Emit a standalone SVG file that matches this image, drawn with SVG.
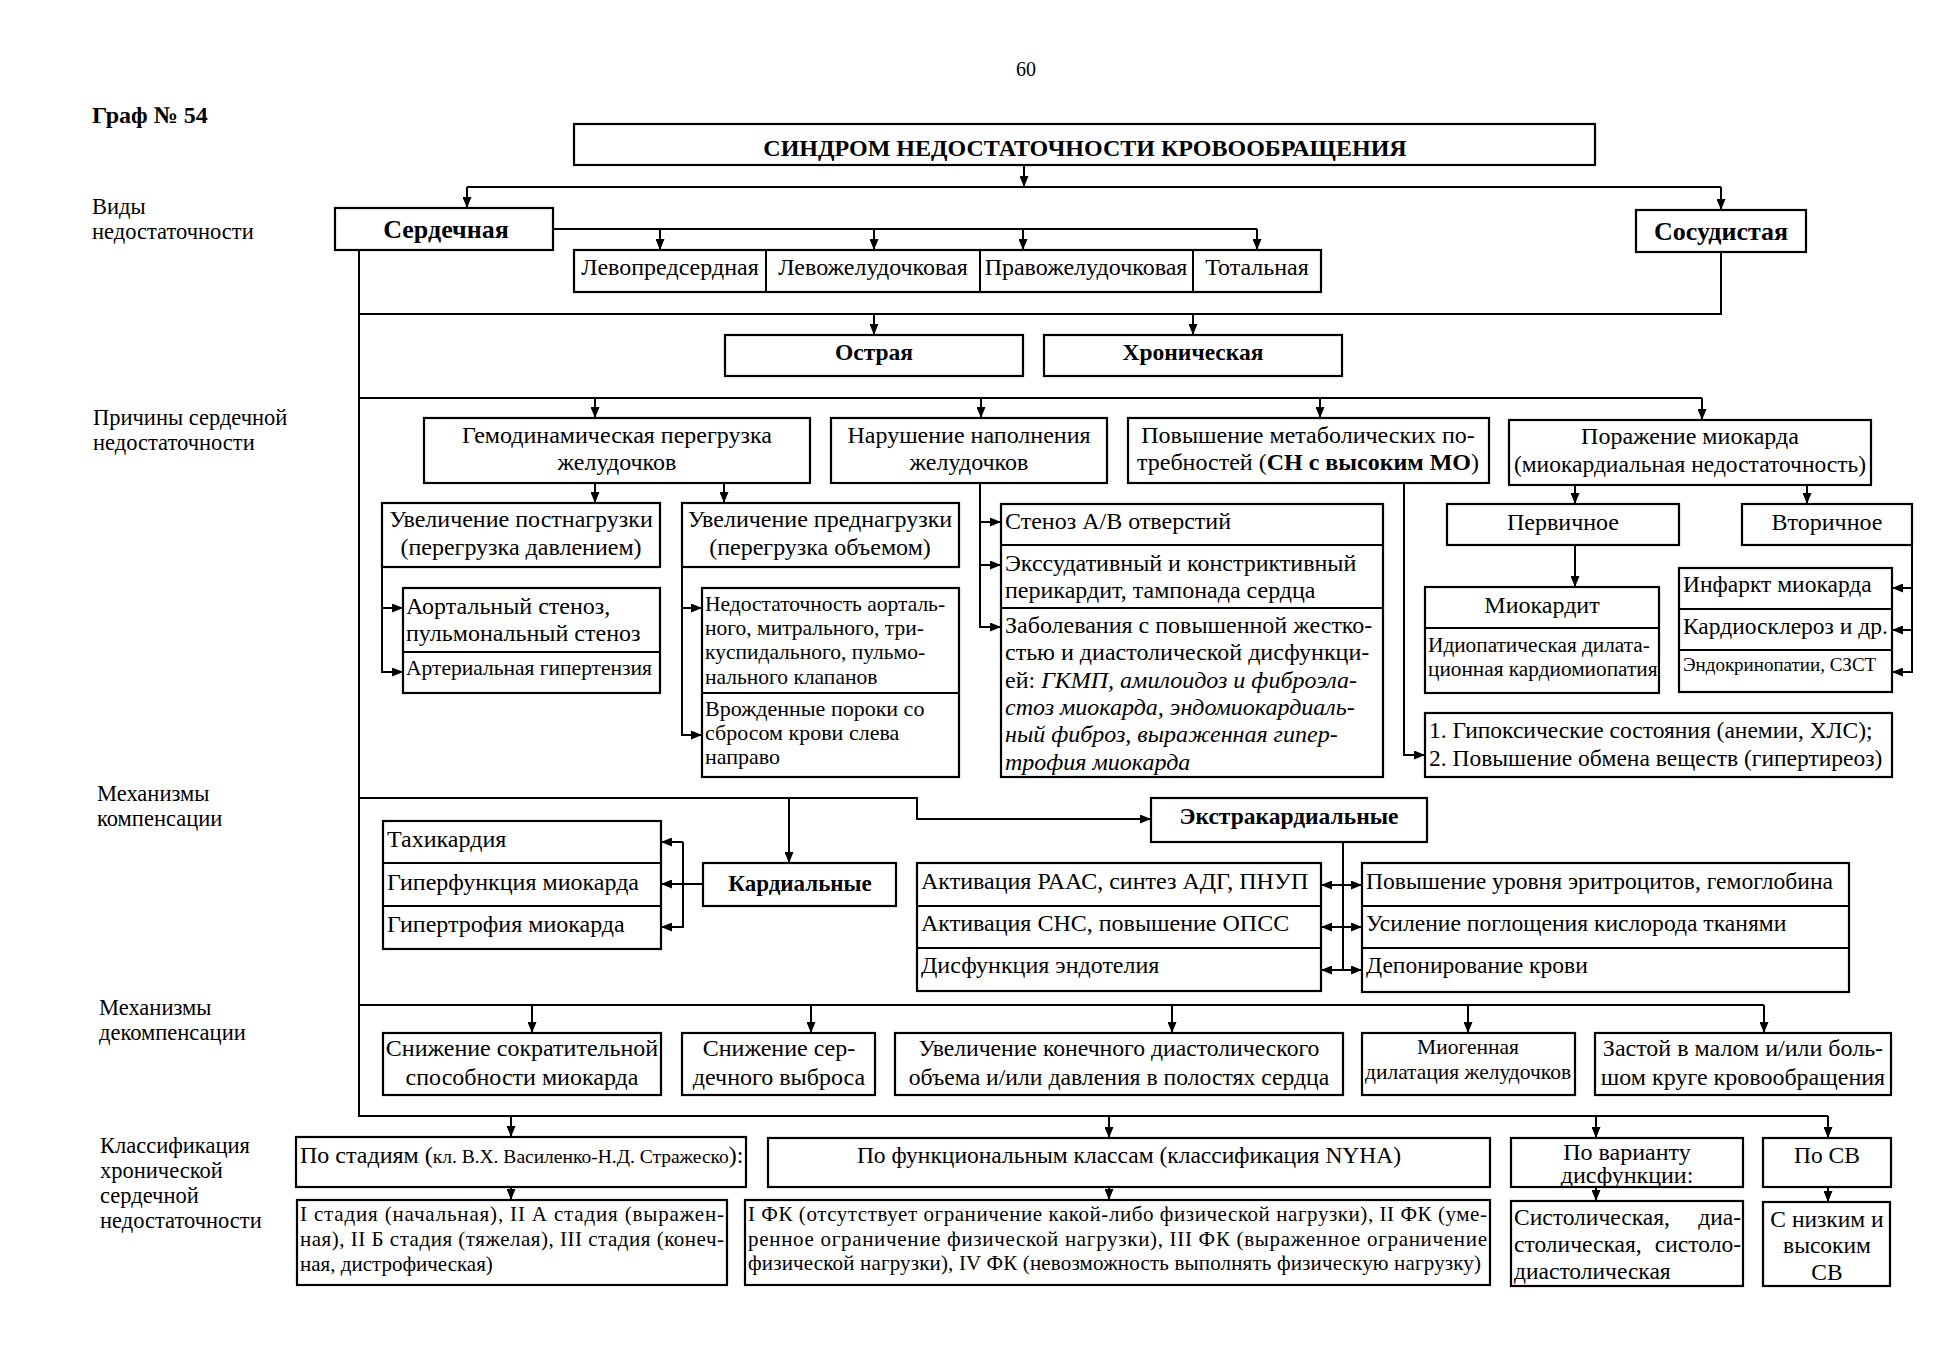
<svg xmlns="http://www.w3.org/2000/svg" width="1948" height="1350" viewBox="0 0 1948 1350">
<defs>
<style>
text{font-family:"Liberation Serif","Times New Roman",serif;font-size:24px;fill:#000}
.lb{font-size:22.5px}
.m{text-anchor:middle}
.e{text-anchor:end}
.b{font-weight:bold}
.s{font-size:21.5px}
.xs{font-size:19.5px}
.p{font-size:21px}
.i{font-style:italic}
.box{fill:#fff;stroke:#000;stroke-width:2.2}
.dv{stroke:#000;stroke-width:2}
.cn path{fill:none;stroke:#000;stroke-width:2}
.ar{marker-end:url(#ah)}
.da{marker-start:url(#ah);marker-end:url(#ah)}
</style>
<marker id="ah" viewBox="0 0 11 9" refX="11" refY="4.5" markerWidth="11" markerHeight="9" markerUnits="userSpaceOnUse" orient="auto-start-reverse"><path d="M0,0 L11,4.5 L0,9 z" fill="#000"/></marker>
</defs>
<rect width="1948" height="1350" fill="#fff"/>

<g id="labels">
<text x="1026" y="76" class="m" style="font-size:20px">60</text>
<text x="92" y="123" class="b">Граф № 54</text>
<text x="92" y="214" class="lb">Виды</text>
<text x="92" y="239" class="lb">недостаточности</text>
<text x="93" y="425" class="lb">Причины сердечной</text>
<text x="93" y="450" class="lb">недостаточности</text>
<text x="97" y="801" class="lb">Механизмы</text>
<text x="97" y="826" class="lb">компенсации</text>
<text x="99" y="1015" class="lb">Механизмы</text>
<text x="99" y="1040" class="lb">декомпенсации</text>
<text x="100" y="1153" class="lb">Классификация</text>
<text x="100" y="1178" class="lb">хронической</text>
<text x="100" y="1203" class="lb">сердечной</text>
<text x="100" y="1228" class="lb">недостаточности</text>
</g>

<g id="connectors" class="cn">
<path class="ar" d="M1024,165 V187"/>
<path d="M467,187 H1721"/>
<path class="ar" d="M467,187 V208"/>
<path class="ar" d="M1721,187 V210"/>
<path d="M553,229 H1257"/>
<path class="ar" d="M660,229 V250"/>
<path class="ar" d="M874,229 V250"/>
<path class="ar" d="M1023,229 V250"/>
<path class="ar" d="M1257,229 V250"/>
<path d="M359,250 V1116 H1828"/>
<path d="M1721,252 V314 H359"/>
<path class="ar" d="M874,314 V335"/>
<path class="ar" d="M1193,314 V335"/>
<path d="M359,398 H1702"/>
<path class="ar" d="M595,398 V418"/>
<path class="ar" d="M981,398 V418"/>
<path class="ar" d="M1320,398 V418"/>
<path class="ar" d="M1702,398 V420"/>
<path class="ar" d="M595,483 V503"/>
<path class="ar" d="M724,483 V503"/>
<path class="ar" d="M382,567 V672 H403"/>
<path class="ar" d="M382,608 H403"/>
<path class="ar" d="M682,567 V735 H702"/>
<path class="ar" d="M682,608 H702"/>
<path class="ar" d="M980,483 V627 H1001"/>
<path class="ar" d="M980,522 H1001"/>
<path class="ar" d="M980,565 H1001"/>
<path class="ar" d="M1404,483 V755 H1425"/>
<path class="ar" d="M1575,485 V504"/>
<path class="ar" d="M1807,485 V504"/>
<path class="ar" d="M1575,545 V587"/>
<path class="ar" d="M1912,545 V672 H1892"/>
<path class="ar" d="M1912,588 H1892"/>
<path class="ar" d="M1912,630 H1892"/>
<path class="ar" d="M359,798 H917 V819 H1151"/>
<path class="ar" d="M789,798 V863"/>
<path class="ar" d="M703,884 H661"/>
<path class="ar" d="M683,842 V927 H661"/>
<path class="ar" d="M683,842 H661"/>
<path d="M1343,842 V970"/>
<path class="da" d="M1321,885 H1362"/>
<path class="da" d="M1321,927 H1362"/>
<path class="da" d="M1321,970 H1362"/>
<path d="M359,1005 H1764"/>
<path class="ar" d="M532,1005 V1033"/>
<path class="ar" d="M811,1005 V1033"/>
<path class="ar" d="M1172,1005 V1033"/>
<path class="ar" d="M1468,1005 V1033"/>
<path class="ar" d="M1764,1005 V1033"/>
<path class="ar" d="M511,1116 V1137"/>
<path class="ar" d="M1109,1116 V1138"/>
<path class="ar" d="M1596,1116 V1138"/>
<path class="ar" d="M1828,1116 V1138"/>
<path class="ar" d="M511,1180 V1200"/>
<path class="ar" d="M1109,1180 V1200"/>
<path class="ar" d="M1596,1180 V1201"/>
<path class="ar" d="M1828,1180 V1202"/>
</g>

<g id="title"><rect class="box" x="574" y="124" width="1021" height="41"/><text x="1085" y="156" class="m b">СИНДРОМ НЕДОСТАТОЧНОСТИ КРОВООБРАЩЕНИЯ</text></g>
<g id="serdechnaya"><rect class="box" x="335" y="208" width="218" height="42"/><text x="446" y="238" class="m b" style="font-size:26px">Сердечная</text></g>
<g id="sosudistaya"><rect class="box" x="1636" y="210" width="170" height="42"/><text x="1721" y="240" class="m b" style="font-size:26px">Сосудистая</text></g>
<g id="types">
<rect class="box" x="574" y="250" width="747" height="42"/>
<line class="dv" x1="766" y1="250" x2="766" y2="292"/>
<line class="dv" x1="980" y1="250" x2="980" y2="292"/>
<line class="dv" x1="1193" y1="250" x2="1193" y2="292"/>
<text x="670" y="275" class="m">Левопредсердная</text>
<text x="873" y="275" class="m">Левожелудочковая</text>
<text x="1086" y="275" class="m">Правожелудочковая</text>
<text x="1257" y="275" class="m">Тотальная</text>
</g>
<g id="ostraya"><rect class="box" x="725" y="335" width="298" height="41"/><text x="874" y="360" class="m b" style="font-size:23.5px">Острая</text></g>
<g id="hronicheskaya"><rect class="box" x="1044" y="335" width="298" height="41"/><text x="1193" y="360" class="m b" style="font-size:23.5px">Хроническая</text></g>

<g id="gemodinamicheskaya"><rect class="box" x="424" y="418" width="386" height="65"/><text x="617" y="443" class="m">Гемодинамическая перегрузка</text><text x="617" y="470" class="m">желудочков</text></g>
<g id="narushenie"><rect class="box" x="831" y="418" width="276" height="65"/><text x="969" y="443" class="m">Нарушение наполнения</text><text x="969" y="470" class="m">желудочков</text></g>
<g id="metabolic"><rect class="box" x="1128" y="418" width="361" height="65"/><text x="1308" y="443" class="m">Повышение метаболических по-</text><text x="1308" y="470" class="m">требностей (<tspan class="b">СН с высоким МО</tspan>)</text></g>
<g id="porazhenie"><rect class="box" x="1509" y="420" width="362" height="65"/><text x="1690" y="444" class="m">Поражение миокарда</text><text x="1690" y="472" class="m" style="font-size:23.5px">(миокардиальная недостаточность)</text></g>

<g id="postnagruzka"><rect class="box" x="382" y="503" width="278" height="64"/><text x="521" y="527" class="m">Увеличение постнагрузки</text><text x="521" y="555" class="m">(перегрузка давлением)</text></g>
<g id="prednagruzka"><rect class="box" x="682" y="503" width="277" height="64"/><text x="820" y="527" class="m">Увеличение преднагрузки</text><text x="820" y="555" class="m">(перегрузка объемом)</text></g>

<g id="aortal">
<rect class="box" x="403" y="588" width="257" height="105"/>
<line class="dv" x1="403" y1="652" x2="660" y2="652"/>
<text x="406" y="614">Аортальный стеноз,</text>
<text x="406" y="641">пульмональный стеноз</text>
<text x="406" y="675" class="s">Артериальная гипертензия</text>
</g>
<g id="nedostatochnost">
<rect class="box" x="702" y="588" width="257" height="189"/>
<line class="dv" x1="702" y1="693" x2="959" y2="693"/>
<text x="705" y="611" class="s">Недостаточность аорталь-</text>
<text x="705" y="635" class="s">ного, митрального, три-</text>
<text x="705" y="659" class="s">куспидального, пульмо-</text>
<text x="705" y="684" class="s">нального клапанов</text>
<text x="705" y="716" style="font-size:22px">Врожденные пороки со</text>
<text x="705" y="740" style="font-size:22px">сбросом крови слева</text>
<text x="705" y="764" style="font-size:22px">направо</text>
</g>
<g id="filling">
<rect class="box" x="1001" y="504" width="382" height="273"/>
<line class="dv" x1="1001" y1="545" x2="1383" y2="545"/>
<line class="dv" x1="1001" y1="608" x2="1383" y2="608"/>
<text x="1005" y="529">Стеноз А/В отверстий</text>
<text x="1005" y="571">Экссудативный и констриктивный</text>
<text x="1005" y="598">перикардит, тампонада сердца</text>
<text x="1005" y="633">Заболевания с повышенной жестко-</text>
<text x="1005" y="660">стью и диастолической дисфункци-</text>
<text x="1005" y="688">ей: <tspan class="i">ГКМП, амилоидоз и фиброэла-</tspan></text>
<text x="1005" y="715" class="i">стоз миокарда, эндомиокардиаль-</text>
<text x="1005" y="742" class="i">ный фиброз, выраженная гипер-</text>
<text x="1005" y="770" class="i">трофия миокарда</text>
</g>
<g id="pervichnoe"><rect class="box" x="1447" y="504" width="232" height="41"/><text x="1563" y="530" class="m">Первичное</text></g>
<g id="vtorichnoe"><rect class="box" x="1742" y="504" width="170" height="41"/><text x="1827" y="530" class="m">Вторичное</text></g>
<g id="miokardit">
<rect class="box" x="1425" y="587" width="234" height="106"/>
<line class="dv" x1="1425" y1="628" x2="1659" y2="628"/>
<text x="1542" y="613" class="m">Миокардит</text>
<text x="1428" y="652" style="font-size:21.3px">Идиопатическая дилата-</text>
<text x="1428" y="676" style="font-size:21.3px">ционная кардиомиопатия</text>
</g>
<g id="infarkt">
<rect class="box" x="1679" y="568" width="213" height="124"/>
<line class="dv" x1="1679" y1="609" x2="1892" y2="609"/>
<line class="dv" x1="1679" y1="650" x2="1892" y2="650"/>
<text x="1683" y="592" style="font-size:23.5px">Инфаркт миокарда</text>
<text x="1683" y="634" style="font-size:23.5px">Кардиосклероз и др.</text>
<text x="1683" y="671" style="font-size:19px">Эндокринопатии, СЗСТ</text>
</g>
<g id="hypoxia">
<rect class="box" x="1425" y="713" width="467" height="64"/>
<text x="1429" y="738" style="font-size:23.5px">1. Гипоксические состояния (анемии, ХЛС);</text>
<text x="1429" y="766" style="font-size:23.5px">2. Повышение обмена веществ (гипертиреоз)</text>
</g>

<g id="cardial-list">
<rect class="box" x="383" y="821" width="278" height="128"/>
<line class="dv" x1="383" y1="863" x2="661" y2="863"/>
<line class="dv" x1="383" y1="906" x2="661" y2="906"/>
<text x="387" y="847">Тахикардия</text>
<text x="387" y="890">Гиперфункция миокарда</text>
<text x="387" y="932">Гипертрофия миокарда</text>
</g>
<g id="kardialnye"><rect class="box" x="703" y="863" width="193" height="43"/><text x="800" y="891" class="m b" style="font-size:23px">Кардиальные</text></g>
<g id="ekstrakardialnye"><rect class="box" x="1151" y="798" width="276" height="44"/><text x="1289" y="824" class="m b" style="font-size:23.5px">Экстракардиальные</text></g>
<g id="extra-list-1">
<rect class="box" x="917" y="863" width="404" height="128"/>
<line class="dv" x1="917" y1="906" x2="1321" y2="906"/>
<line class="dv" x1="917" y1="948" x2="1321" y2="948"/>
<text x="921" y="889">Активация РААС, синтез АДГ, ПНУП</text>
<text x="921" y="931">Активация СНС, повышение ОПСС</text>
<text x="921" y="973">Дисфункция эндотелия</text>
</g>
<g id="extra-list-2">
<rect class="box" x="1362" y="863" width="487" height="129"/>
<line class="dv" x1="1362" y1="906" x2="1849" y2="906"/>
<line class="dv" x1="1362" y1="948" x2="1849" y2="948"/>
<text x="1366" y="889" style="font-size:23.6px">Повышение уровня эритроцитов, гемоглобина</text>
<text x="1366" y="931" style="font-size:23.6px">Усиление поглощения кислорода тканями</text>
<text x="1366" y="973" style="font-size:23.6px">Депонирование крови</text>
</g>

<g id="decomp-1"><rect class="box" x="383" y="1033" width="278" height="62"/><text x="522" y="1056" class="m">Снижение сократительной</text><text x="522" y="1085" class="m">способности миокарда</text></g>
<g id="decomp-2"><rect class="box" x="682" y="1033" width="193" height="62"/><text x="779" y="1056" class="m">Снижение сер-</text><text x="779" y="1085" class="m">дечного выброса</text></g>
<g id="decomp-3"><rect class="box" x="895" y="1033" width="448" height="62"/><text x="1119" y="1056" class="m" style="font-size:23.7px">Увеличение конечного диастолического</text><text x="1119" y="1085" class="m" style="font-size:23.7px">объема и/или давления в полостях сердца</text></g>
<g id="decomp-4"><rect class="box" x="1362" y="1033" width="213" height="62"/><text x="1468" y="1054" class="m s">Миогенная</text><text x="1468" y="1079" class="m s">дилатация желудочков</text></g>
<g id="decomp-5"><rect class="box" x="1595" y="1033" width="296" height="62"/><text x="1743" y="1056" class="m">Застой в малом и/или боль-</text><text x="1743" y="1085" class="m">шом круге кровообращения</text></g>

<g id="po-stadiyam"><rect class="box" x="296" y="1137" width="450" height="50"/><text x="300" y="1163">По стадиям (<tspan class="xs">кл. В.Х. Василенко-Н.Д. Стражеско</tspan>):</text></g>
<g id="stadii"><rect class="box" x="297" y="1200" width="430" height="85"/>
<text x="300" y="1221" class="p" textLength="424" lengthAdjust="spacing">I стадия (начальная), II А стадия (выражен-</text>
<text x="300" y="1246" class="p" textLength="424" lengthAdjust="spacing">ная), II Б стадия (тяжелая), III стадия (конеч-</text>
<text x="300" y="1271" class="p">ная, дистрофическая)</text>
</g>
<g id="po-fk"><rect class="box" x="768" y="1138" width="722" height="49"/><text x="1129" y="1163" class="m" style="font-size:23.5px">По функциональным классам (классификация NYHA)</text></g>
<g id="fk"><rect class="box" x="745" y="1200" width="745" height="85"/>
<text x="748" y="1221" class="p" textLength="739" lengthAdjust="spacing">I ФК (отсутствует ограничение какой-либо физической нагрузки), II ФК (уме-</text>
<text x="748" y="1246" class="p" textLength="739" lengthAdjust="spacing">ренное ограничение физической нагрузки), III ФК (выраженное ограничение</text>
<text x="748" y="1270" class="p" textLength="733" lengthAdjust="spacing">физической нагрузки), IV ФК (невозможность выполнять физическую нагрузку)</text>
</g>
<g id="po-variantu"><rect class="box" x="1511" y="1138" width="232" height="49"/><text x="1627" y="1160" class="m">По варианту</text><text x="1627" y="1183" class="m">дисфункции:</text></g>
<g id="variant"><rect class="box" x="1511" y="1201" width="232" height="85"/>
<text x="1514" y="1225" style="font-size:23.5px">Систолическая,</text><text x="1741" y="1225" class="e" style="font-size:23.5px">диа-</text>
<text x="1514" y="1252" style="font-size:23.5px">столическая,</text><text x="1741" y="1252" class="e" style="font-size:23.5px">систоло-</text>
<text x="1514" y="1279" style="font-size:23.5px">диастолическая</text>
</g>
<g id="po-sv"><rect class="box" x="1763" y="1138" width="128" height="49"/><text x="1827" y="1163" class="m" style="font-size:23.5px">По СВ</text></g>
<g id="sv"><rect class="box" x="1763" y="1202" width="127" height="84"/>
<text x="1827" y="1227" class="m" style="font-size:23.5px">С низким и</text>
<text x="1827" y="1253" class="m" style="font-size:23.5px">высоким</text>
<text x="1827" y="1280" class="m" style="font-size:23.5px">СВ</text>
</g>
</svg>
